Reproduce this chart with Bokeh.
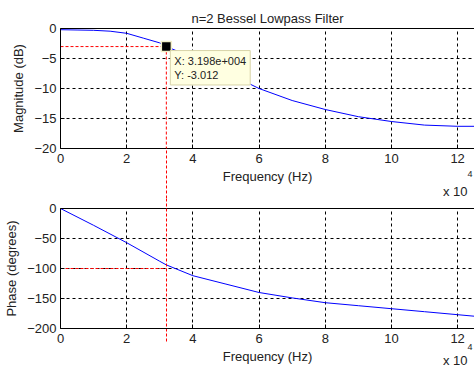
from bokeh.plotting import figure
from bokeh.models import Range1d, FixedTicker, Label, LinearAxis, Title
from bokeh.layouts import column
from bokeh.embed import file_html
from bokeh.resources import INLINE

# ---- data (frequency in units of 1e4 Hz) ----
mag_freq = [0, 0.5, 1, 1.5, 2, 2.5, 3, 3.198, 3.5, 4, 4.5, 5, 5.74, 6, 7, 8, 9, 10, 11, 12, 12.6]
mag_db = [-0.2, -0.25, -0.3, -0.45, -0.8, -1.6, -2.4, -3.012, -3.7, -4.9, -6.2, -7.6, -9.3,
          -10.0, -12.0, -13.5, -14.7, -15.5, -16.1, -16.3, -16.3]
phase_freq = [0, 1, 2, 3, 3.198, 4, 5, 6, 7, 8, 9, 10, 11, 12, 12.6]
phase_deg = [0, -28, -57, -88, -94, -112, -126, -140, -149, -157, -162, -167, -172, -177, -180]
x_ticks = [0, 2, 4, 6, 8, 10, 12]
mag_ticks = [0, -5, -10, -15, -20]
phase_ticks = [0, -50, -100, -150, -200]
tip_x = 3.198
tip_y = -3.012
phase_mark = -100
title_text = "n=2 Bessel Lowpass Filter"
tip_text = "X: 3.198e+004\nY: -3.012"
x_label = "Frequency (Hz)"
exp_base = "x 10"
exp_power = "4"

FONT = "Liberation Sans"
TXT = "#222222"
FS = "13px"
X_END = 12.51
FW = 414


def style(p, ylabel, yticks):
    p.outline_line_color = None
    for ax in (p.xaxis[0], p.yaxis[0]):
        ax.major_tick_in = 4
        ax.major_tick_out = 0
        ax.minor_tick_line_color = None
        ax.axis_line_color = "black"
        ax.major_tick_line_color = "black"
        ax.major_label_text_font = FONT
        ax.major_label_text_font_size = FS
        ax.major_label_text_color = TXT
        ax.axis_label_text_font = FONT
        ax.axis_label_text_font_size = FS
        ax.axis_label_text_font_style = "normal"
        ax.axis_label_text_color = TXT
    p.xaxis[0].ticker = FixedTicker(ticks=x_ticks)
    p.yaxis[0].ticker = FixedTicker(ticks=yticks)
    p.xaxis[0].axis_label = x_label
    p.yaxis[0].axis_label = ylabel
    p.xaxis[0].major_label_standoff = 5
    p.xaxis[0].axis_label_standoff = 3
    p.yaxis[0].major_label_standoff = 4
    p.yaxis[0].axis_label_standoff = 5
    for g in (p.xgrid[0], p.ygrid[0]):
        g.grid_line_color = "black"
        g.grid_line_dash = "3 3"
        g.grid_line_width = 1
    # top border of the frame
    top = LinearAxis(ticker=FixedTicker(ticks=[]), axis_line_color="black",
                     major_tick_in=0, major_tick_out=0, minor_tick_line_color=None,
                     major_label_standoff=0)
    p.add_layout(top, "above")


def red_axis(t_in, t_out):
    return LinearAxis(ticker=FixedTicker(ticks=[tip_x]), axis_line_color=None,
                      major_tick_line_color="red", major_tick_line_dash="3 2",
                      major_tick_in=t_in, major_tick_out=t_out,
                      minor_tick_line_color=None, major_label_text_font_size="0px",
                      major_label_text_color=None, major_label_standoff=0)


def exp_title(text, size, offset, standoff):
    return Title(text=text, align="right", vertical_align="top", offset=offset,
                 standoff=standoff, text_font=FONT, text_font_size=size,
                 text_font_style="normal", text_color=TXT)


# ---- magnitude ----
p1 = figure(frame_width=FW, frame_height=120, output_backend="svg", toolbar_location=None,
            x_range=Range1d(0, X_END), y_range=Range1d(-20, 0),
            min_border_left=60, min_border_right=0, min_border_top=28, min_border_bottom=50)
p1.title.text = title_text
p1.title.align = "center"
p1.title.text_font = FONT
p1.title.text_font_size = FS
p1.title.text_font_style = "normal"
p1.title.text_color = TXT
p1.title.standoff = 5
style(p1, "Magnitude (dB)", mag_ticks)
p1.line(mag_freq, mag_db, line_color="#0000FF", line_width=1)
p1.line([0, tip_x], [tip_y, tip_y], line_color="red", line_dash="3 2", line_width=1)
p1.line([tip_x, tip_x], [tip_y, -20], line_color="red", line_dash="3 2", line_width=1)
p1.add_layout(red_axis(39, 12), "below")
p1.add_layout(exp_title(exp_base, FS, 7, -30), "below")
p1.add_layout(exp_title(exp_power, "9px", 2, -56), "below")
p1.scatter([tip_x], [tip_y], marker="square", size=10, fill_color="black",
           line_color="#F2EFC8", line_width=1.5)
p1.add_layout(Label(x=tip_x, y=tip_y, x_offset=4, y_offset=-4, text=tip_text,
                    text_align="left", text_baseline="top", text_font=FONT,
                    text_font_size="11px", text_color=TXT, text_line_height=1.2,
                    background_fill_color="#FFFFE1", border_line_color="#D8D4A8",
                    padding=4))

# ---- phase ----
p2 = figure(frame_width=FW, frame_height=120, output_backend="svg", toolbar_location=None,
            x_range=Range1d(0, X_END), y_range=Range1d(-200, 0),
            min_border_left=60, min_border_right=0, min_border_top=10, min_border_bottom=43)
style(p2, "Phase (degrees)", phase_ticks)
p2.add_layout(red_axis(134, 10), "above")
p2.line(phase_freq, phase_deg, line_color="#0000FF", line_width=1)
p2.line([0, tip_x], [phase_mark, phase_mark], line_color="red", line_dash="3 2", line_width=1)
p2.add_layout(exp_title(exp_base, FS, 7, -28), "below")
p2.add_layout(exp_title(exp_power, "9px", 2, -46), "below")

layout = column(p1, p2, spacing=0)
open("out.html", "w").write(file_html(layout, INLINE))
